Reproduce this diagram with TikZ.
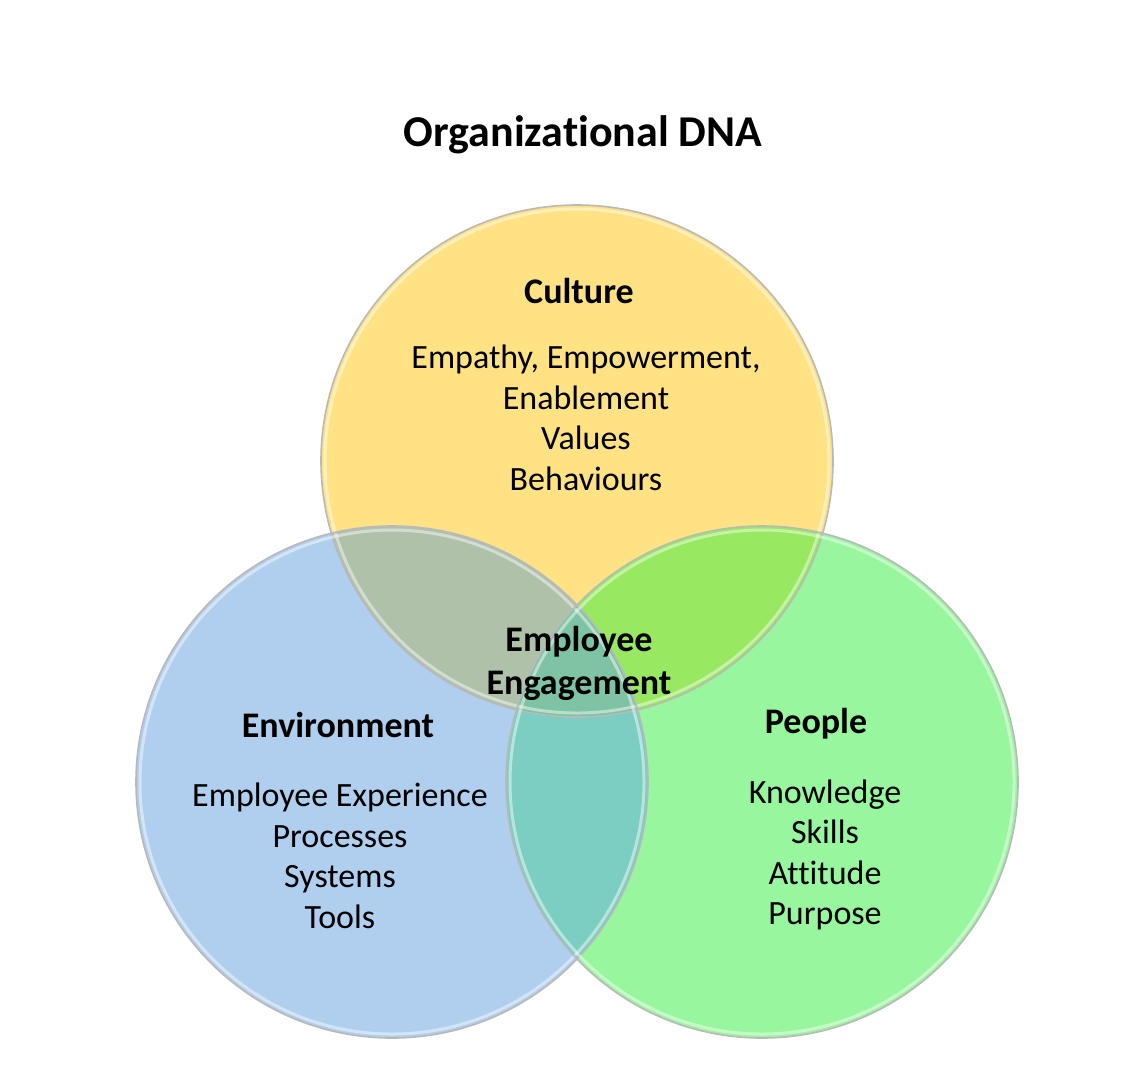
\documentclass[tikz,border=0pt]{standalone}
\usepackage{fontspec}
\setmainfont{Carlito}[Ligatures={NoCommon}]
\definecolor{cy}{RGB}{254,226,132}
\definecolor{cb}{RGB}{176,206,238}
\definecolor{cg}{RGB}{152,246,158}
\definecolor{cyb}{RGB}{176,193,170}
\definecolor{cyg}{RGB}{152,232,98}
\definecolor{cbg}{RGB}{124,206,194}
\definecolor{cybg}{RGB}{126,196,164}
\tikzset{
  rim/.style={draw=gray!55, line width=1.6pt},
  hl/.style={draw=white, line width=3pt, opacity=0.45},
  body/.style={font=\fontsize{34}{40.5}\selectfont, align=center},
  head/.style={font=\fontsize{36}{43}\selectfont\bfseries, align=center},
}
\begin{document}
\begin{tikzpicture}[x=1pt,y=-1pt]
\useasboundingbox (0,0) rectangle (1139,1080);
\fill[white] (0,0) rectangle (1139,1080);
\def\R{256}
\coordinate (Y) at (577,461);
\coordinate (B) at (392,782);
\coordinate (G) at (762,782);
\fill[cy] (Y) circle (\R);
\fill[cb] (B) circle (\R);
\fill[cg] (G) circle (\R);
\begin{scope}
  \clip (Y) circle (\R);
  \fill[cyb] (B) circle (\R);
  \fill[cyg] (G) circle (\R);
\end{scope}
\begin{scope}
  \clip (B) circle (\R);
  \fill[cbg] (G) circle (\R);
  \clip (G) circle (\R);
  \fill[cybg] (Y) circle (\R);
\end{scope}
\foreach \c in {Y,B,G}{
  \draw[hl] (\c) circle (\R-4);
  \draw[rim] (\c) circle (\R);
}
\node[font=\fontsize{44}{50}\selectfont\bfseries] (title) at (583,135) {Organizational DNA};
\node[head] (culture) at (579,291) {Culture};
\node[body] (culturetxt) at (586,418) {Empathy, Empowerment,\\Enablement\\Values\\Behaviours};
\node[head] (env) at (338,725) {Environment};
\node[body] (envtxt) at (340,856) {Employee Experience\\Processes\\Systems\\Tools};
\node[head] (people) at (816,724) {People};
\node[body] (peopletxt) at (825,855) {Knowledge\\Skills\\Attitude\\Purpose};
\node[head] (ee) at (579,663) {Employee\\Engagement};
\end{tikzpicture}
\end{document}
